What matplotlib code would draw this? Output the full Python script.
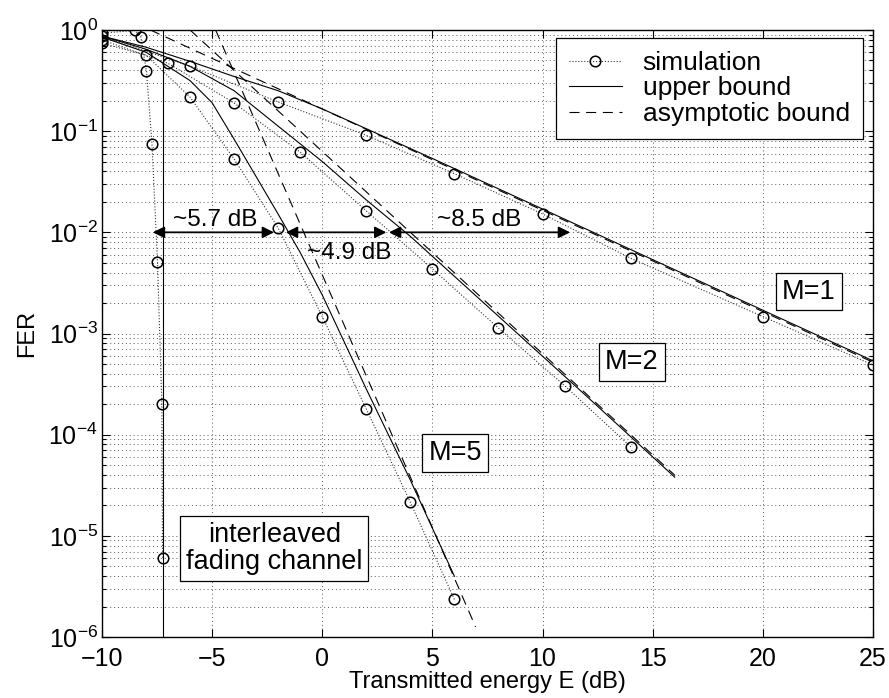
import numpy as np
import matplotlib
matplotlib.use("Agg")
import matplotlib.pyplot as plt
from matplotlib.ticker import NullFormatter, FixedLocator, LogFormatterMathtext

plt.rcParams['font.family'] = ['Liberation Sans', 'DejaVu Sans']
plt.rcParams['mathtext.fontset'] = 'custom'
plt.rcParams['mathtext.rm'] = 'Liberation Sans'
plt.rcParams['mathtext.it'] = 'Liberation Sans:italic'
plt.rcParams['font.size'] = 17

###### DATA ######
# simulation points (E in dB, FER)
sim_m1_e = [-10, -6, -2, 2, 6, 10, 14, 20, 25]
sim_m1_fer = [0.865, 0.44, 0.194, 0.091, 0.038, 0.0152, 0.00555, 0.00147, 4.88e-4]
sim_m2_e = [-10, -7, -4, -1, 2, 5, 8, 11, 14]
sim_m2_fer = [0.80, 0.468, 0.19, 0.062, 0.0163, 0.00435, 0.00113, 3.05e-4, 7.6e-5]
sim_m5_e = [-10, -8, -6, -4, -2, 0, 2, 4, 6]
sim_m5_fer = [0.74, 0.565, 0.217, 0.053, 0.011, 0.00147, 1.79e-4, 2.14e-5, 2.35e-6]
sim_wf_e = [-10, -8.5, -8.24, -7.98, -7.73, -7.48, -7.28, -7.25]
sim_wf_fer = [0.93, 0.99, 0.86, 0.39, 0.075, 0.0051, 2.0e-4, 6.0e-6]

# upper bounds
ub_m1_e = [-10, -8, -6, -4, -2, 0, 5, 10, 15, 20, 25]
ub_m1_fer = [0.871, 0.676, 0.490, 0.347, 0.251, 0.166, 0.0537, 0.0170, 0.00537, 0.0017, 5.37e-4]
ub_m2_e = [-10, -8, -6, -4, -2, 0, 2, 4, 8, 12, 16]
ub_m2_fer = [0.871, 0.646, 0.437, 0.251, 0.112, 0.0501, 0.0209, 0.00912, 0.00148, 2.40e-4, 3.80e-5]
ub_m5_e = [-10, -8, -6, -5, -4, -3, -2, -1, 0, 2, 4, 6]
ub_m5_fer = [0.851, 0.603, 0.316, 0.191, 0.0832, 0.0355, 0.0151, 0.00631, 0.0024, 2.82e-4, 3.55e-5, 3.98e-6]

# asymptotic bounds (straight in log scale)
as_m1_e = [-7.8, 25]
as_m1_fer = [1.0, 5.2e-4]
as_m2_e = [-6, 16]
as_m2_fer = [1.0, 3.98e-5]
as_m5_e = [-4.84, 6.96]
as_m5_fer = [1.0, 1.26e-6]

limit_e = -7.25

# gap arrows at FER = 1e-2
gap_y = 1e-2
gap_start = [-7.69, -1.65, 3.03]
gap_end = [-2.19, 2.91, 11.25]
gap_text = ['~5.7 dB', '~4.9 dB', '~8.5 dB']
gap_text_pos = [(-4.87, 0.0133), (1.21, 0.0063), (7.10, 0.0133)]

m_labels = ['M=1', 'M=2', 'M=5']
m_label_pos = [(22.09, 2.6e-3), (14.05, 5.26e-4), (6.03, 6.6e-5)]

x_ticks = [-10, -5, 0, 5, 10, 15, 20, 25]
x_ticklabels = ['\u221210', '\u22125', '0', '5', '10', '15', '20', '25']
y_ticks = [1e-6, 1e-5, 1e-4, 1e-3, 1e-2, 1e-1, 1e0]

###### PLOT ######
fig = plt.figure(figsize=(8.89, 6.98), dpi=100)
ax = fig.add_axes([0.1147, 0.0874, 0.8673, 0.8696])

sim_style = dict(color='0.2', linestyle=':', linewidth=0.8, marker='o', markersize=7.6,
                 markerfacecolor='none', markeredgecolor='k', markeredgewidth=1.1)

ax.semilogy(sim_m1_e, sim_m1_fer, label='simulation', **sim_style)
ax.semilogy(sim_m2_e, sim_m2_fer, **sim_style)
ax.semilogy(sim_m5_e, sim_m5_fer, **sim_style)
ax.semilogy(sim_wf_e, sim_wf_fer, **sim_style)

ax.semilogy(ub_m1_e, ub_m1_fer, 'k-', linewidth=0.8, label='upper bound')
ax.semilogy(ub_m2_e, ub_m2_fer, 'k-', linewidth=0.8)
ax.semilogy(ub_m5_e, ub_m5_fer, 'k-', linewidth=0.8)

dash = (0, (9, 6))
ax.semilogy(as_m1_e, as_m1_fer, color='k', linestyle=dash, linewidth=0.8, label='asymptotic bound')
ax.semilogy(as_m2_e, as_m2_fer, color='k', linestyle=dash, linewidth=0.8)
ax.semilogy(as_m5_e, as_m5_fer, color='k', linestyle=dash, linewidth=0.8)

ax.axvline(limit_e, color='k', linewidth=0.8)

for xs, xe in zip(gap_start, gap_end):
    ax.annotate('', xy=(xe, gap_y), xytext=(xs, gap_y),
                arrowprops=dict(arrowstyle='<|-|>', color='k', lw=1.3,
                                mutation_scale=17, shrinkA=0, shrinkB=0))
for txt, (tx, ty) in zip(gap_text, gap_text_pos):
    ax.text(tx, ty, txt, ha='center', va='center', fontsize=17.5)

box = dict(boxstyle='square,pad=0.22', facecolor='white', edgecolor='k', linewidth=0.9)
for txt, (tx, ty) in zip(m_labels, m_label_pos):
    ax.text(tx, ty, txt, ha='center', va='center', fontsize=19.5, bbox=box)

ax.text(-2.18, 7.55e-6, 'interleaved\nfading channel', ha='center', va='center',
        fontsize=19.5, linespacing=1.05, bbox=dict(boxstyle='square,pad=0.22', facecolor='white',
                                                  edgecolor='k', linewidth=0.9))

ax.set_xlim(-10, 25)
ax.set_ylim(1e-6, 1)
ax.xaxis.set_major_locator(FixedLocator(x_ticks))
ax.set_xticklabels(x_ticklabels)
ax.yaxis.set_major_locator(FixedLocator(y_ticks))
ax.yaxis.set_major_formatter(LogFormatterMathtext())
minor_y = [m * 10.0 ** d for d in range(-6, 0) for m in range(2, 10)]
ax.yaxis.set_minor_locator(FixedLocator(minor_y))
ax.yaxis.set_minor_formatter(NullFormatter())

ax.grid(True, which='major', color='0.35', linestyle=(0, (1, 3)), linewidth=0.7)
ax.grid(True, which='minor', axis='y', color='0.35', linestyle=(0, (1, 3)), linewidth=0.7)
ax.tick_params(which='both', direction='in', top=True, right=True, labelsize=18)
ax.tick_params(which='major', length=6, width=0.8)
ax.tick_params(which='minor', length=3, width=0.8)
ax.tick_params(axis='x', pad=7.5)
ax.tick_params(axis='y', pad=3)
for sp in ax.spines.values():
    sp.set_linewidth(1.0)

ax.set_xlabel('Transmitted energy E (dB)', fontsize=17, labelpad=-0.5)
ax.set_ylabel('FER', fontsize=17, labelpad=7)

leg = ax.legend(loc='upper right', bbox_to_anchor=(0.987, 0.987), borderaxespad=0,
                fontsize=19, fancybox=False, framealpha=1, edgecolor='k',
                handlelength=2.0, labelspacing=0.05, borderpad=0.5, handletextpad=0.8)
leg.get_frame().set_linewidth(0.9)

fig.savefig('out.png', dpi=100)
